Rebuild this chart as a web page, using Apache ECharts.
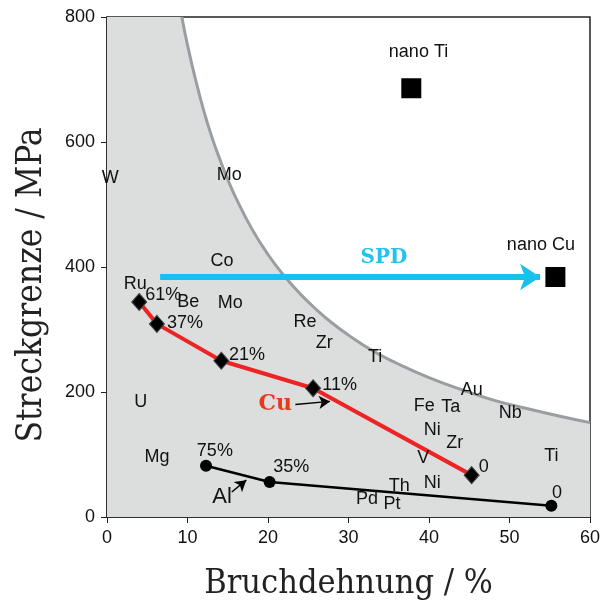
<!DOCTYPE html>
<html><head><meta charset="utf-8">
<script src="https://cdn.jsdelivr.net/npm/echarts@6/dist/echarts.min.js"></script>
<style>html,body{margin:0;padding:0;background:#fff}#c{width:603px;height:603px}</style>
</head><body><div id="c"></div>
<script>
// Boundary curve of conventional materials
const curveX = [9.3, 10, 11, 12, 13, 14, 15, 16, 18, 20, 22, 24, 26, 28, 30, 33, 36, 40, 44, 48, 52, 56, 60];
const curveY = [800, 755, 700, 651, 609, 573, 540, 511, 461, 420, 386, 357, 332, 310, 291, 266, 246, 223, 204, 187, 174, 162, 151];

// Cu series (red line, diamonds)
const cuX = [4.0, 6.2, 14.2, 25.6, 45.3];
const cuY = [344, 309, 250, 206, 67];
// Al series (black line, circles)
const alX = [12.3, 20.2, 55.2];
const alY = [82, 56, 18];
// nano materials
const nanoX = [37.8, 55.7];
const nanoY = [686, 384];

// Text labels
const labelNames = ['W','Mo','Co','Ru','61%','Be','Mo','37%','Re','Zr','21%','Ti','11%','U','Fe','Ta','Au','Nb','Ni','Zr','V','0','Ti','Mg','75%','35%','Th','Ni','Pd','Pt','0','nano Ti','nano Cu'];
const labelX = [0.4,15.2,14.3,3.5,7.0,10.1,15.3,9.7,24.6,27.0,17.4,33.3,28.9,4.2,39.4,42.7,45.3,50.1,40.4,43.2,39.3,46.8,55.2,6.2,13.4,22.9,36.3,40.4,32.3,35.4,55.9,38.7,53.9];
const labelY = [542,547,410,373,355,344,342,310,312,278,259,256,211,184,178,176,203,166,139,118,94,80,98,96,106,80,50,54,29,21,38,744,435];

// SPD arrow
const spdFrom = [6.6, 384];
const spdTo = [53.8, 384];

const chart = echarts.init(document.getElementById('c'));
const curve = curveX.map((x, i) => [x, curveY[i]]);
const fill = [[0, 800]].concat(curve);
const txt = (extra) => Object.assign({show: true, position: 'inside', fontFamily: 'Liberation Sans', fontSize: 18, color: '#111', opacity: 1}, extra);

chart.setOption({
  animation: false,
  grid: {left: 107, right: 13, top: 17, bottom: 86, outerBoundsMode: 'none', containLabel: false,
    show: true, borderColor: '#222', borderWidth: 1.5, backgroundColor: '#fff'},
  xAxis: {
    type: 'value', min: 0, max: 60, interval: 10,
    name: 'Bruchdehnung / %', nameLocation: 'middle', nameGap: 50,
    nameTextStyle: {fontFamily: 'DejaVu Serif Condensed, DejaVu Serif', fontSize: 34, color: '#222'},
    axisLine: {lineStyle: {color: '#222', width: 1.5}},
    axisTick: {inside: false, length: 6, lineStyle: {color: '#222'}},
    axisLabel: {fontFamily: 'Liberation Sans', fontSize: 18, color: '#111', margin: 12},
    splitLine: {show: false}
  },
  yAxis: {
    type: 'value', min: 0, max: 800, interval: 200,
    name: 'Streckgrenze / MPa', nameLocation: 'middle', nameGap: 58,
    nameTextStyle: {fontFamily: 'DejaVu Serif Condensed, DejaVu Serif', fontSize: 35, color: '#222', padding: [0, 36, 0, 0]},
    axisLine: {lineStyle: {color: '#222', width: 1.5}},
    axisTick: {inside: false, length: 6, lineStyle: {color: '#222'}},
    axisLabel: {fontFamily: 'Liberation Sans', fontSize: 18, color: '#111', margin: 12},
    splitLine: {show: false}
  },
  series: [
    {type: 'line', data: fill, symbol: 'none', lineStyle: {width: 0}, areaStyle: {color: '#dcdddd', opacity: 1}, z: 1, silent: true},
    {type: 'line', data: curve, symbol: 'none', smooth: true, lineStyle: {color: '#9a9ea2', width: 3}, z: 2, silent: true},
    {type: 'line', data: alX.map((x, i) => [x, alY[i]]), symbol: 'circle', symbolSize: 12,
      itemStyle: {color: '#000'}, lineStyle: {color: '#000', width: 2.5}, z: 3},
    {type: 'line', data: cuX.map((x, i) => [x, cuY[i]]), symbol: 'diamond', symbolSize: [15, 17],
      itemStyle: {color: '#000', borderColor: '#444', borderWidth: 1}, lineStyle: {color: '#ee2424', width: 4}, z: 4},
    {type: 'scatter', data: nanoX.map((x, i) => [x, nanoY[i]]), symbol: 'rect', symbolSize: 20,
      itemStyle: {color: '#000', opacity: 1}, z: 5},
    {type: 'scatter', data: labelX.map((x, i) => [x, labelY[i]]), symbolSize: 0, z: 6, silent: true,
      itemStyle: {opacity: 1},
      label: txt({formatter: p => labelNames[p.dataIndex]})},
    {type: 'scatter', data: [[14.3, 32]], symbolSize: 0, z: 6, silent: true, itemStyle: {opacity: 1},
      label: txt({formatter: 'Al', fontSize: 22})},
    {type: 'scatter', data: [[20.9, 181]], symbolSize: 0, z: 6, silent: true, itemStyle: {opacity: 1},
      label: txt({formatter: 'Cu', fontFamily: 'DejaVu Serif', fontWeight: 'bold', fontSize: 22, color: '#e8391c'})},
    {type: 'scatter', data: [[34.4, 414]], symbolSize: 0, z: 6, silent: true, itemStyle: {opacity: 1},
      label: txt({formatter: 'SPD', fontFamily: 'DejaVu Serif', fontWeight: 'bold', fontSize: 20, color: '#22c2ee'})},
    {type: 'line', data: [], z: 7, silent: true,
      markLine: {silent: true, animation: false, label: {show: false}, symbol: ['none', 'arrow'],
        data: [
          [{coord: spdFrom, symbolSize: 0, lineStyle: {color: '#18c0ee', width: 6, type: 'solid'}},
           {coord: spdTo, symbolSize: [20, 20]}],
          [{coord: [15.5, 40], symbolSize: 0, lineStyle: {color: '#000', width: 1.5, type: 'solid'}},
           {coord: [17.3, 59], symbolSize: [10, 11]}],
          [{coord: [23.4, 180], symbolSize: 0, lineStyle: {color: '#000', width: 1.5, type: 'solid'}},
           {coord: [27.7, 185], symbolSize: [10, 11]}]
        ]}}
  ]
});
</script></body></html>
